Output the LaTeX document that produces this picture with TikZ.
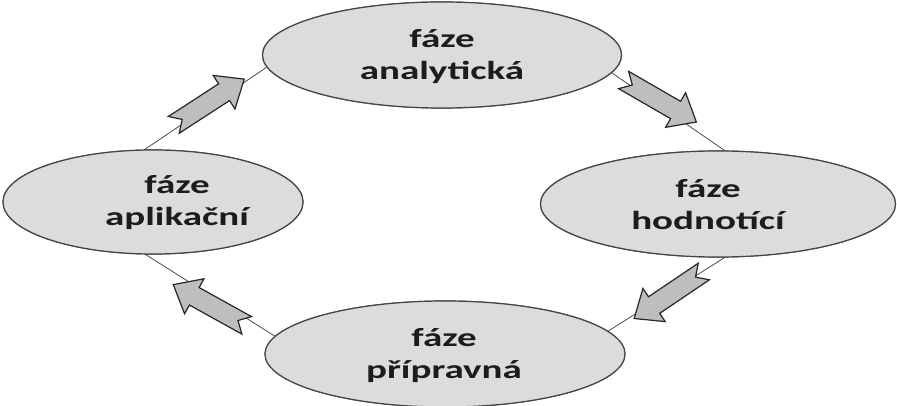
\documentclass[tikz,border=0pt]{standalone}
\usepackage{fontspec}
\newfontfamily\lblfont[FakeStretch=1.5]{Carlito}
\usetikzlibrary{shapes.geometric}
\definecolor{phasefill}{HTML}{DCDCDC}
\definecolor{phaseline}{HTML}{454545}
\definecolor{arrowfill}{HTML}{BEBEBE}
\definecolor{txt}{HTML}{1C1C1C}
\tikzset{
  phase/.style={ellipse, draw=phaseline, fill=phasefill, line width=1.2pt, inner sep=0pt},
  lbl/.style={align=center, text=txt, font=\lblfont\bfseries\fontsize{26}{32}\selectfont},
  link/.style={draw=black!70, line width=0.8pt},
  bigarrow/.pic={
    \draw[draw=black!85, fill=arrowfill, line width=1.2pt, line join=miter]
      (-42pt,10pt) -- (18pt,10pt) -- (18pt,20pt) -- (42pt,0pt) -- (18pt,-20pt)
      -- (18pt,-10pt) -- (-42pt,-10pt) -- (-32pt,0pt) -- cycle;
  }
}
\begin{document}
\begin{tikzpicture}[x=1pt,y=-1pt]
\useasboundingbox (0,0) rectangle (897,406);
% ellipses
\node[phase, minimum width=359pt, minimum height=106pt] (ana) at (442,55) {};
\node[phase, minimum width=300pt, minimum height=104pt] (apl) at (153,202) {};
\node[phase, minimum width=355pt, minimum height=106pt] (hod) at (718,204) {};
\node[phase, minimum width=360pt, minimum height=106pt] (pri) at (445,354) {};
% connectors
\draw[link] (apl.99) -- (ana.184);
\draw[link] (ana.354) -- (hod.83);
\draw[link] (hod.277) -- (pri.8);
\draw[link] (apl.262) -- (pri.174.5);
% redraw ellipses over the line ends
\node[phase, minimum width=359pt, minimum height=106pt] at (442,55) {};
\node[phase, minimum width=300pt, minimum height=104pt] at (153,202) {};
\node[phase, minimum width=355pt, minimum height=106pt] at (718,204) {};
\node[phase, minimum width=360pt, minimum height=106pt] at (445,354) {};
% labels
\node[lbl] (anat) at (442,57) {fáze\\analytická};
\node[lbl] (aplt) at (177,203) {fáze\\aplikační};
\node[lbl] (hodt) at (708,205) {fáze\\hodnotící};
\node[lbl] (prit) at (444,356) {fáze\\přípravná};
% block arrows
\pic[rotate=33] at (209,102) {bigarrow};
\pic[rotate=-30] at (660,101) {bigarrow};
\pic[rotate=214] at (669,295) {bigarrow};
\pic[rotate=151] at (210,305) {bigarrow};
\end{tikzpicture}
\end{document}
